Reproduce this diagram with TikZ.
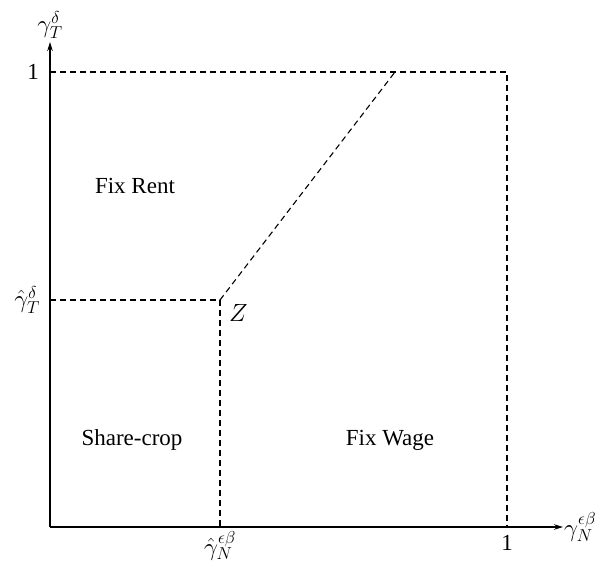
\documentclass[tikz,border=0pt]{standalone}
\usepackage{fontspec}
\setmainfont{Liberation Serif}
\usetikzlibrary{arrows.meta}

\begin{document}
\begin{tikzpicture}[
  x=1pt, y=-1pt,
  font=\fontsize{23}{26}\selectfont,
  axis/.style={line width=1.3pt,-{Stealth[length=9pt,width=5.5pt]}},
  bound/.style={line width=1.1pt,dash pattern=on 6pt off 4pt},
  region/.style={inner sep=0pt},
  mlab/.style={font=\fontsize{25}{28}\selectfont},
]
\useasboundingbox (0,0) rectangle (604,577);

% corner points
\coordinate (O) at (50,527);
\coordinate (Z) at (220,300);
\coordinate (ZL) at (50,300);
\coordinate (ZB) at (220,527);
\coordinate (TL) at (50,72);
\coordinate (TK) at (395,72);
\coordinate (TR) at (507,72);
\coordinate (BR) at (507,527);
\coordinate (xend) at (563,527);
\coordinate (yend) at (50,42);

% axes
\draw[axis] (O) -- (xend);
\draw[axis] (O) -- (yend);
\node[mlab,anchor=west,inner sep=1pt] (xlab) at (xend) {$\gamma_N^{\epsilon\beta}$};
\node[mlab,anchor=south,inner sep=3pt] (ylab) at (yend) {$\gamma_T^{\delta}$};

% ticks
\node[anchor=east,inner sep=11pt] (one y) at (TL) {1};
\node[anchor=north,inner sep=8pt] (one x) at (BR) {1};
\node[mlab,anchor=east,inner sep=10pt] (hat y) at (ZL) {$\hat{\gamma}_T^{\delta}$};
\node[mlab,anchor=north,inner sep=4pt] (hat x) at (ZB) {$\hat{\gamma}_N^{\epsilon\beta}$};

% boundaries
\draw[bound] (ZL) -- (Z) -- (ZB);
\draw[bound] (Z) -- (TK);
\draw[bound] (TL) -- (TR) -- (BR);
\node[anchor=north west,inner sep=4pt,xshift=5pt] (zlab) at (Z) {$Z$};

% regions
\node[region] (rent) at (135,186) {Fix Rent};
\node[region] (crop) at (132,440) {Share-crop};
\node[region] (wage) at (390,440) {Fix Wage};
\end{tikzpicture}
\end{document}
